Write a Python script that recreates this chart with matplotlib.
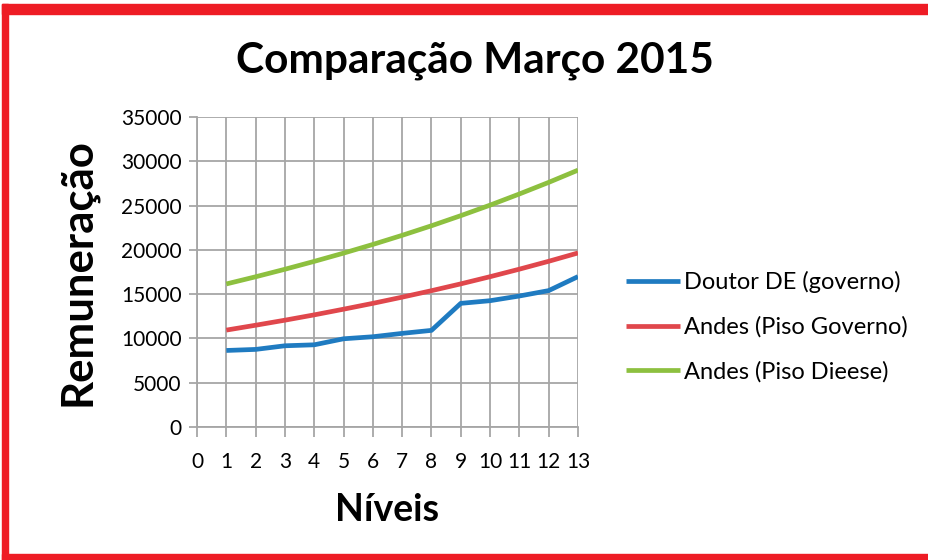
import matplotlib
matplotlib.use("Agg")
import matplotlib.pyplot as plt
from matplotlib.patches import Rectangle

plt.rcParams["font.family"] = ["Lato", "DejaVu Sans"]

TITLE = "Comparação Março 2015"
X_LABEL = "Níveis"
Y_LABEL = "Remuneração"

niveis = [1, 2, 3, 4, 5, 6, 7, 8, 9, 10, 11, 12, 13]
doutor_de = [8640, 8760, 9170, 9280, 9960, 10190, 10570, 10910, 13960, 14260, 14790, 15400, 16980]
andes_piso_governo = [10940, 11490, 12060, 12660, 13300, 13960, 14660, 15390, 16160, 16970, 17820, 18710, 19650]
andes_piso_dieese = [16150, 16960, 17810, 18700, 19630, 20610, 21640, 22720, 23860, 25050, 26310, 27620, 29000]

SERIES = [
    ("Doutor DE (governo)", doutor_de, "#1F7BC1"),
    ("Andes (Piso Governo)", andes_piso_governo, "#E0474C"),
    ("Andes (Piso Dieese)", andes_piso_dieese, "#8DC03F"),
]
X_TICKS = list(range(0, 14))
Y_TICKS = list(range(0, 35001, 5000))
GRID_COLOR = "#A6A6A6"
BORDER_COLOR = "#EE1C25"

fig = plt.figure(figsize=(9.29, 5.6), dpi=100)
ax = fig.add_axes([197 / 929, 1 - 427 / 560, 381 / 929, 310 / 560])

for label, values, color in SERIES:
    ax.plot(niveis, values, color=color, linewidth=3.4, label=label, solid_capstyle="butt")

ax.set_xlim(0, 13)
ax.set_ylim(0, 35000)
ax.set_xticks(X_TICKS)
ax.set_yticks(Y_TICKS)
ax.grid(True, color=GRID_COLOR, linewidth=1.3)
ax.set_axisbelow(True)
for side in ["top", "right"]:
    ax.spines[side].set_visible(False)
for side in ["left", "bottom"]:
    ax.spines[side].set_color(GRID_COLOR)
    ax.spines[side].set_linewidth(1.3)
ax.tick_params(axis="x", direction="out", length=7, width=1.3, color=GRID_COLOR,
               labelsize=15, pad=11)
ax.tick_params(axis="y", direction="out", length=6, width=1.3, color=GRID_COLOR,
               labelsize=15, pad=5)

fig.text(475 / 929, 1 - 61 / 560, TITLE, ha="center", va="center",
         fontsize=30.5, fontweight="bold")
fig.text(387 / 929, 1 - 510 / 560, X_LABEL, ha="center", va="center",
         fontsize=27, fontweight="bold")
fig.text(78 / 929, 1 - 272 / 560, Y_LABEL, ha="center", va="center",
         rotation=90, fontsize=31.5, fontweight="bold")

ax.legend(loc="center left", bbox_to_anchor=(626 / 929, 1 - 327 / 560),
          bbox_transform=fig.transFigure, frameon=False, fontsize=17,
          handlelength=2.3, handletextpad=0.17, labelspacing=0.98, borderaxespad=0,
          borderpad=0)

# red frame on top, left and bottom edges
fig.patches.append(Rectangle((2 / 929, 1 - 14 / 560), 927 / 929, 10 / 560,
                             transform=fig.transFigure, color=BORDER_COLOR))
fig.patches.append(Rectangle((2 / 929, 0), 6 / 929, 1 - 4 / 560,
                             transform=fig.transFigure, color=BORDER_COLOR))
fig.patches.append(Rectangle((2 / 929, 0), 927 / 929, 6 / 560,
                             transform=fig.transFigure, color=BORDER_COLOR))

fig.savefig("out.png", dpi=100)
